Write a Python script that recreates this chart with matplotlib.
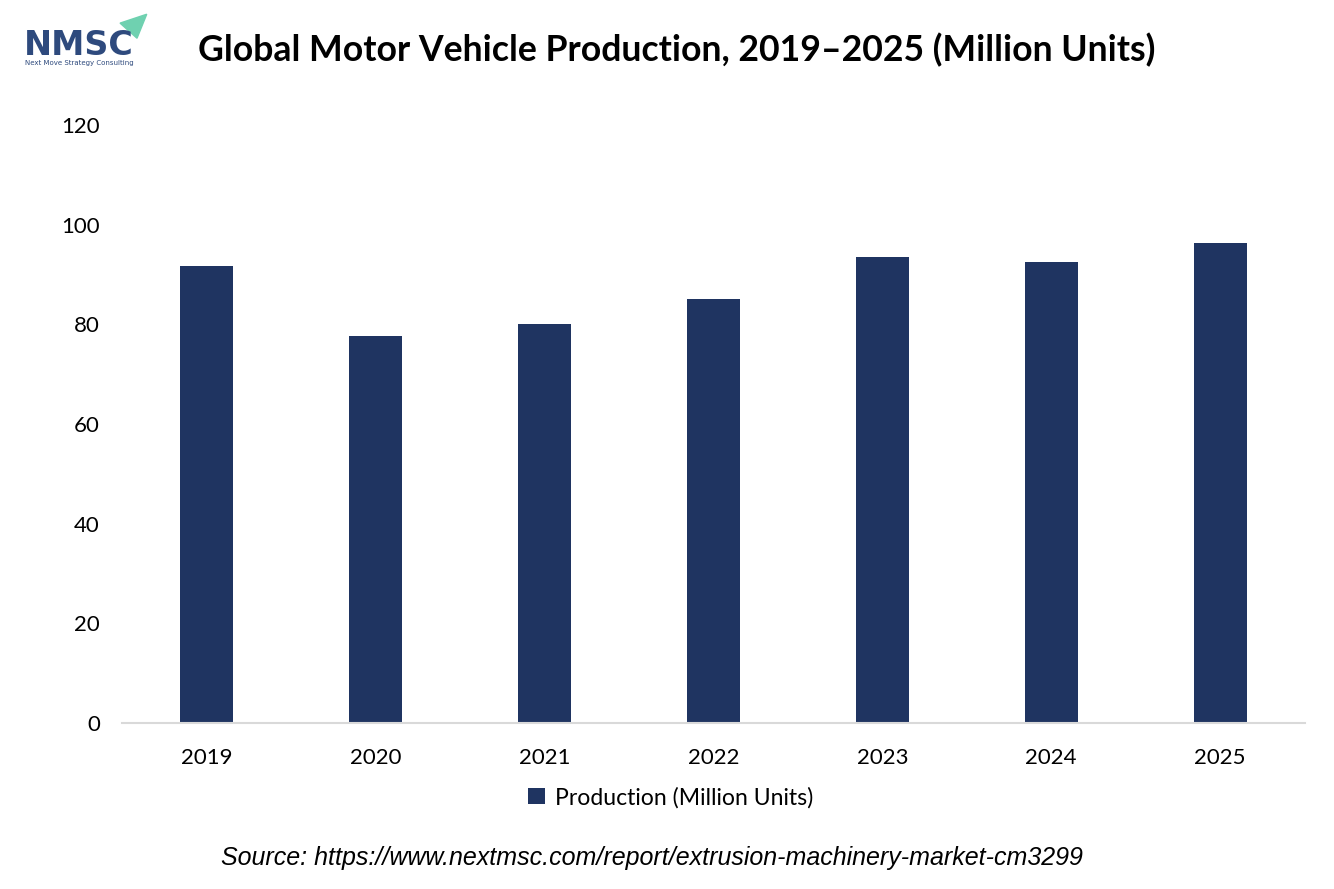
import matplotlib.pyplot as plt
from matplotlib.patches import Polygon

# data
years = ["2019", "2020", "2021", "2022", "2023", "2024", "2025"]
production = [91.8, 77.6, 80.1, 85.0, 93.5, 92.6, 96.3]
y_ticks = [0, 20, 40, 60, 80, 100, 120]

bar_color = "#1f3461"
txt_font = ["Lato", "DejaVu Sans"]

fig = plt.figure(figsize=(13.34, 8.89), dpi=100)
ax = fig.add_axes([0.0915, 0.1867, 0.8865, 0.6727])

ax.bar(range(len(years)), production, width=0.314, color=bar_color,
       label="Production (Million Units)", zorder=2)
ax.set_xlim(-0.5, len(years) - 0.5)
ax.set_ylim(0, 120)
ax.set_yticks(y_ticks)
ax.set_xticks(range(len(years)))
ax.set_xticklabels(years)

for s in ["top", "right", "left"]:
    ax.spines[s].set_visible(False)
ax.spines["bottom"].set_color("#d9d9d9")
ax.spines["bottom"].set_linewidth(1.5)
ax.tick_params(axis="both", length=0, labelsize=16, colors="#000000")
ax.tick_params(axis="x", pad=18)
ax.tick_params(axis="y", pad=16)
for lbl in ax.get_xticklabels() + ax.get_yticklabels():
    lbl.set_family(txt_font)

leg = ax.legend(loc="upper center", bbox_to_anchor=(0.464, -0.072), frameon=False,
                prop={"family": txt_font, "size": 16.6}, handlelength=0.7,
                handleheight=0.7, handletextpad=0.45)

# title
fig.text(0.5075, 0.944, "Global Motor Vehicle Production, 2019\u20132025 (Million Units)",
         ha="center", va="center", fontsize=25.7, fontweight="bold", family=txt_font)

# logo
fig.text(0.018, 0.949, "NMSC", ha="left", va="center", fontsize=24, fontweight="bold",
         color="#2e4a7d", family=["DejaVu Sans"])
fig.text(0.019, 0.929, "Next Move Strategy Consulting", ha="left", va="center",
         fontsize=5, color="#2e4a7d", family=["DejaVu Sans"])
tri = Polygon([[0.090, 0.974], [0.110, 0.984], [0.1027, 0.957]], closed=True,
              transform=fig.transFigure, color="#6fd1b0")
fig.patches.append(tri)

# source
fig.text(0.4888, 0.035, "Source: https://www.nextmsc.com/report/extrusion-machinery-market-cm3299",
         ha="center", va="center", fontsize=18, style="italic", family=["Liberation Sans"])

fig.savefig("out.png", dpi=100)
